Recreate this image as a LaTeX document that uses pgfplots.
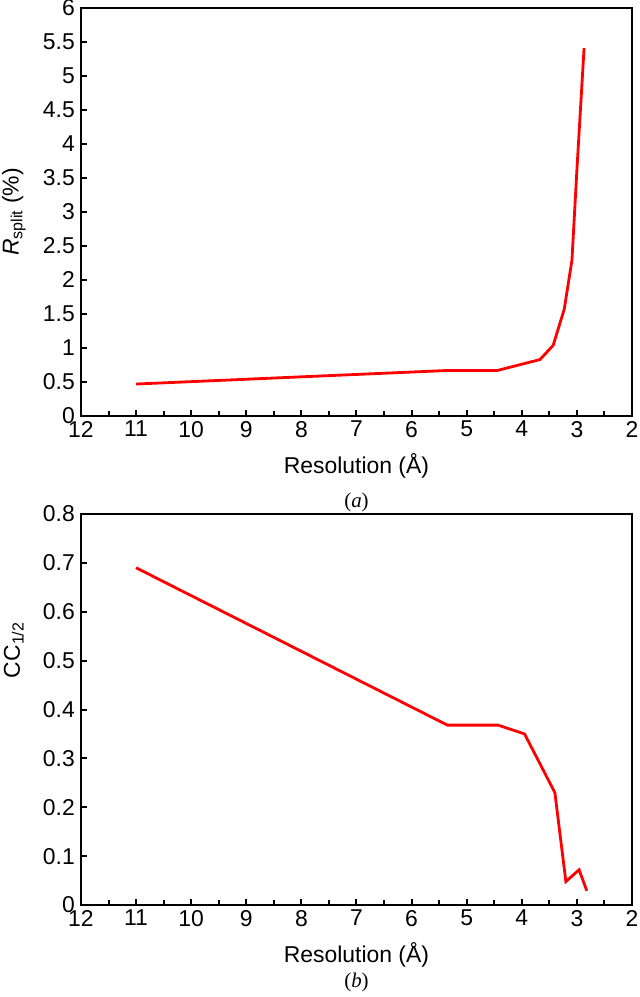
\documentclass[border=0pt]{standalone}
\usepackage{fontspec}
\setmainfont{Liberation Sans}
\newfontfamily\capfont{Liberation Serif}
\usepackage{pgfplots}
\pgfplotsset{compat=1.18}

\pgfplotsset{
  resplot/.style={
    scale only axis, width=551bp,
    x dir=reverse, xmin=2, xmax=12,
    xtick={2,3,...,12}, minor x tick num=1,
    axis line style={line width=2.8bp},
    every tick/.style={black, line width=2bp},
    major tick length=6bp, minor tick length=5bp,
    tick align=inside, xtick pos=bottom, ytick pos=left,
    tick label style={font=\fontsize{23}{23}\selectfont},
    xticklabel style={inner sep=2bp, yshift=-3bp},
    yticklabel style={inner sep=2bp, xshift=-4bp},
    label style={font=\fontsize{23}{23}\selectfont},
    /pgf/number format/assume math mode=true,
    /pgf/number format/fixed,
    xlabel={Resolution (Å)},
    xlabel style={at={(axis description cs:0.5,0)}, anchor=center, yshift=-50bp},
    clip=false,
  },
}

\begin{document}
\begin{tikzpicture}
\useasboundingbox (0,0) rectangle (640bp,997bp);

% (a) R_split
\begin{axis}[resplot,
  at={(81bp,581bp)}, anchor=south west, height=408bp,
  ymin=0, ymax=6,
  ytick={0,0.5,1,1.5,2,2.5,3,3.5,4,4.5,5,5.5,6},
  ylabel={\textit{R}\textsubscript{split} (\%)},
  ylabel style={at={(axis description cs:-0.122,0.5)}, anchor=center},
]
\addplot[red, line width=2.8bp] coordinates {
  (11.00,0.47) (5.33,0.67) (4.44,0.67) (3.67,0.83) (3.43,1.04)
  (3.23,1.57) (3.09,2.29) (3.00,3.62) (2.87,5.41)
};
\node[font=\fontsize{21}{21}\selectfont\capfont] at (axis description cs:0.5,0) [yshift=-86bp] {(\textit{a})};
\end{axis}

% (b) CC1/2
\begin{axis}[resplot,
  at={(81bp,92bp)}, anchor=south west, height=391bp,
  ymin=0, ymax=0.8,
  ytick={0,0.1,0.2,0.3,0.4,0.5,0.6,0.7,0.8},
  ylabel={CC\textsubscript{1/2}},
  ylabel style={at={(axis description cs:-0.122,0.652)}, anchor=center},
]
\addplot[red, line width=2.8bp] coordinates {
  (11.00,0.69) (5.35,0.368) (4.43,0.368) (3.95,0.35) (3.40,0.23)
  (3.20,0.048) (2.96,0.072) (2.82,0.029)
};
\node[font=\fontsize{21}{21}\selectfont\capfont] at (axis description cs:0.5,0) [yshift=-77bp] {(\textit{b})};
\end{axis}
\end{tikzpicture}
\end{document}
